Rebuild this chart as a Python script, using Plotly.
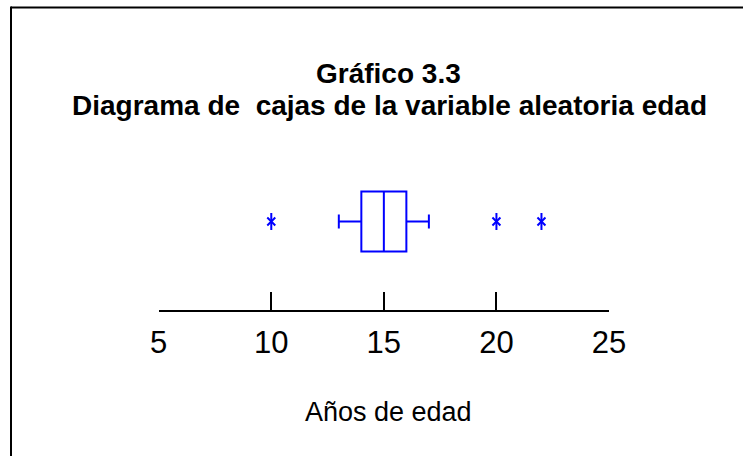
import plotly.graph_objects as go

# ---- data ----
q1 = [14]
median = [15]
q3 = [16]
lower_whisker = [13]
upper_whisker = [17]
outliers = [10, 20, 22]
tick_values = [5, 10, 15, 20, 25]
tick_labels = ["5", "10", "15", "20", "25"]
title_line1 = "Gráfico 3.3"
title_line2 = "Diagrama de\u00a0 cajas de la variable aleatoria edad"
x_title = "Años de edad"

BLUE = "#0000FF"
FONT = "Arial, 'Liberation Sans', sans-serif"
W, H = 743, 456

fig = go.Figure()

fig.add_trace(go.Box(
    orientation="h",
    y=[0],
    q1=q1, median=median, q3=q3,
    lowerfence=lower_whisker, upperfence=upper_whisker,
    width=0.678,
    whiskerwidth=0.233,
    boxpoints=False,
    line=dict(color=BLUE, width=2),
    fillcolor="rgba(0,0,0,0)",
    hoverinfo="skip",
    showlegend=False,
))

# asterisk outliers (vertical stroke + diagonal cross)
fig.add_trace(go.Scatter(
    x=outliers, y=[0] * len(outliers), mode="markers",
    marker=dict(symbol="line-ns-open", size=12, color=BLUE,
                line=dict(color=BLUE, width=2)),
    showlegend=False, hoverinfo="skip",
))
fig.add_trace(go.Scatter(
    x=outliers, y=[0] * len(outliers), mode="markers",
    marker=dict(symbol="x-thin-open", size=8, color=BLUE,
                line=dict(color=BLUE, width=2)),
    showlegend=False, hoverinfo="skip",
))

x_left_px, x_right_px = 158.7, 609.0
y_top_px, y_bottom_px = 133.0, 310.0

fig.update_layout(
    width=W, height=H,
    margin=dict(l=0, r=0, t=0, b=0),
    paper_bgcolor="white", plot_bgcolor="white",
    showlegend=False,
    xaxis=dict(
        domain=[x_left_px / W, x_right_px / W],
        range=[5, 25],
        tickmode="array", tickvals=tick_values, ticktext=tick_labels,
        ticks="inside", ticklen=18, tickwidth=2, tickcolor="black",
        showline=True, linecolor="black", linewidth=2,
        showgrid=False, zeroline=False,
        tickfont=dict(family=FONT, size=31, color="black"),
        ticklabelstandoff=4,
        automargin=False,
        fixedrange=True,
    ),
    yaxis=dict(
        domain=[(H - y_bottom_px) / H, (H - y_top_px) / H],
        range=[-1, 1],
        visible=False, showgrid=False, zeroline=False,
        automargin=False,
        fixedrange=True,
    ),
    annotations=[
        dict(text="<b>" + title_line1 + "</b>", xref="paper", yref="paper",
             x=388 / W, y=1 - 73 / H, xanchor="center", yanchor="middle",
             showarrow=False, font=dict(family=FONT, size=28, color="black")),
        dict(text="<b>" + title_line2 + "</b>", xref="paper", yref="paper",
             x=389 / W, y=1 - 105 / H, xanchor="center", yanchor="middle",
             showarrow=False, font=dict(family=FONT, size=28, color="black")),
        dict(text=x_title, xref="paper", yref="paper",
             x=388 / W, y=1 - 412 / H, xanchor="center", yanchor="middle",
             showarrow=False, font=dict(family=FONT, size=27, color="black")),
    ],
    shapes=[
        dict(type="line", xref="paper", yref="paper",
             x0=11 / W, x1=1.0, y0=1 - 7.5 / H, y1=1 - 7.5 / H,
             line=dict(color="black", width=2)),
        dict(type="line", xref="paper", yref="paper",
             x0=11 / W, x1=11 / W, y0=1 - 6.5 / H, y1=0,
             line=dict(color="black", width=2)),
    ],
)

fig.write_html(
    "out.html",
    config={"displayModeBar": False, "staticPlot": True},
    post_script="document.body.style.margin='0';document.body.style.overflow='hidden';",
)
